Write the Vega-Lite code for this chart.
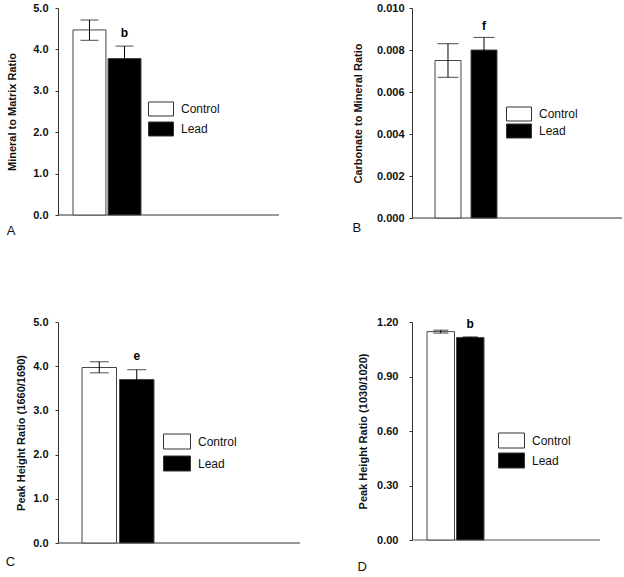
{
  "$schema": "https://vega.github.io/schema/vega-lite/v6.json",
  "padding": {"left": 5, "top": 1, "right": 0, "bottom": 0},
  "background": "white",
  "columns": 2,
  "bounds": "full",
  "align": "each",
  "spacing": {"column": 51, "row": 73},
  "resolve": {"scale": {"fill": "independent", "y": "independent", "x": "independent"}, "legend": {"fill": "independent"}},
  "concat": [
    {
      "width": 221, "height": 207,
      "title": {"text": "A", "orient": "bottom", "anchor": "start", "frame": "bounds", "offset": 5},
      "data": {"values": [
        {"group": "Control", "mean": 4.47, "lo": 4.22, "hi": 4.71, "sig": ""},
        {"group": "Lead", "mean": 3.78, "lo": 3.48, "hi": 4.08, "sig": "b"}
      ]},
      "encoding": {
        "y": {"field": "mean", "type": "quantitative", "scale": {"domain": [0, 5]}, "axis": {"values": [0, 1, 2, 3, 4, 5], "format": ".1f", "title": "Mineral to Matrix Ratio", "labelPadding": 7, "titlePadding": 15}}
      },
      "layer": [
        {"data": {"values": [{"base": 0}]}, "mark": {"type": "rule", "color": "#333", "strokeWidth": 1}, "encoding": {"y": {"field": "base", "type": "quantitative"}}},
        {"mark": {"type": "bar", "stroke": "#444", "strokeWidth": 1},
         "encoding": {
           "x": {"field": "group", "type": "nominal", "scale": {"domain": ["Control", "Lead"], "range": [15, 83], "paddingInner": 0.06, "paddingOuter": 0}, "axis": null},
           "fill": {"field": "group", "type": "nominal", "scale": {"domain": ["Control", "Lead"], "range": ["white", "black"]},
             "legend": {"orient": "none", "legendX": 95.5, "legendY": 93.5, "title": null, "symbolType": "M-1.786,-1H1.786V1H-1.786Z", "symbolSize": 196, "labelOffset": 12.5, "rowPadding": 1}}
         }},
        {"mark": {"type": "rule", "color": "black"}, "encoding": {"x": {"field": "group", "type": "nominal"}, "y": {"field": "lo", "type": "quantitative"}, "y2": {"field": "hi"}}},
        {"mark": {"type": "tick", "color": "black", "size": 18, "thickness": 1}, "encoding": {"x": {"field": "group", "type": "nominal"}, "y": {"field": "hi", "type": "quantitative"}}},
        {"mark": {"type": "tick", "color": "black", "size": 18, "thickness": 1}, "encoding": {"x": {"field": "group", "type": "nominal"}, "y": {"field": "lo", "type": "quantitative"}}},
        {"mark": {"type": "text", "baseline": "alphabetic", "dy": -9, "fontWeight": "bold", "fontSize": 12, "font": "Liberation Sans"}, "encoding": {"x": {"field": "group", "type": "nominal"}, "y": {"field": "hi", "type": "quantitative"}, "text": {"field": "sig"}}}
      ]
    },
    {
      "width": 210, "height": 210,
      "title": {"text": "B", "orient": "bottom", "anchor": "start", "frame": "bounds", "offset": -1},
      "data": {"values": [
        {"group": "Control", "mean": 0.0075, "lo": 0.0067, "hi": 0.0083, "sig": ""},
        {"group": "Lead", "mean": 0.0080, "lo": 0.0074, "hi": 0.0086, "sig": "f"}
      ]},
      "encoding": {
        "y": {"field": "mean", "type": "quantitative", "scale": {"domain": [0, 0.01]}, "axis": {"values": [0, 0.002, 0.004, 0.006, 0.008, 0.01], "format": ".3f", "title": "Carbonate to Mineral Ratio", "labelPadding": 5, "titlePadding": 13}}
      },
      "layer": [
        {"data": {"values": [{"base": 0}]}, "mark": {"type": "rule", "color": "#333", "strokeWidth": 1}, "encoding": {"y": {"field": "base", "type": "quantitative"}}},
        {"mark": {"type": "bar", "stroke": "#444", "strokeWidth": 1},
         "encoding": {
           "x": {"field": "group", "type": "nominal", "scale": {"domain": ["Control", "Lead"], "range": [23, 85], "paddingInner": 0.278, "paddingOuter": 0}, "axis": null},
           "fill": {"field": "group", "type": "nominal", "scale": {"domain": ["Control", "Lead"], "range": ["white", "black"]},
             "legend": {"orient": "none", "legendX": 99.5, "legendY": 98.5, "title": null, "symbolType": "M-1.786,-1H1.786V1H-1.786Z", "symbolSize": 196, "labelOffset": 12.5, "rowPadding": -2}}
         }},
        {"mark": {"type": "rule", "color": "black"}, "encoding": {"x": {"field": "group", "type": "nominal"}, "y": {"field": "lo", "type": "quantitative"}, "y2": {"field": "hi"}}},
        {"mark": {"type": "tick", "color": "black", "size": 21, "thickness": 1}, "encoding": {"x": {"field": "group", "type": "nominal"}, "y": {"field": "hi", "type": "quantitative"}}},
        {"mark": {"type": "tick", "color": "black", "size": 21, "thickness": 1}, "encoding": {"x": {"field": "group", "type": "nominal"}, "y": {"field": "lo", "type": "quantitative"}}},
        {"mark": {"type": "text", "baseline": "alphabetic", "dy": -7, "fontWeight": "bold", "fontSize": 12, "font": "Liberation Sans"}, "encoding": {"x": {"field": "group", "type": "nominal"}, "y": {"field": "hi", "type": "quantitative"}, "text": {"field": "sig"}}}
      ]
    },
    {
      "width": 242, "height": 221,
      "title": {"text": "C", "orient": "bottom", "anchor": "start", "frame": "bounds", "offset": 8, "dx": -10},
      "data": {"values": [
        {"group": "Control", "mean": 3.97, "lo": 3.85, "hi": 4.10, "sig": ""},
        {"group": "Lead", "mean": 3.70, "lo": 3.48, "hi": 3.92, "sig": "e"}
      ]},
      "encoding": {
        "y": {"field": "mean", "type": "quantitative", "scale": {"domain": [0, 5]}, "axis": {"values": [0, 1, 2, 3, 4, 5], "format": ".1f", "title": "Peak Height Ratio (1660/1690)", "labelPadding": 7, "titlePadding": 6}}
      },
      "layer": [
        {"data": {"values": [{"base": 0}]}, "mark": {"type": "rule", "color": "#333", "strokeWidth": 1}, "encoding": {"y": {"field": "base", "type": "quantitative"}}},
        {"mark": {"type": "bar", "stroke": "#444", "strokeWidth": 1},
         "encoding": {
           "x": {"field": "group", "type": "nominal", "scale": {"domain": ["Control", "Lead"], "range": [24, 96], "paddingInner": 0.08, "paddingOuter": 0}, "axis": null},
           "fill": {"field": "group", "type": "nominal", "scale": {"domain": ["Control", "Lead"], "range": ["white", "black"]},
             "legend": {"orient": "none", "legendX": 111, "legendY": 111.5, "title": null, "symbolType": "M-1.8,-1H1.8V1H-1.8Z", "symbolSize": 225, "labelOffset": 13, "rowPadding": 2}}
         }},
        {"mark": {"type": "rule", "color": "black"}, "encoding": {"x": {"field": "group", "type": "nominal"}, "y": {"field": "lo", "type": "quantitative"}, "y2": {"field": "hi"}}},
        {"mark": {"type": "tick", "color": "black", "size": 19, "thickness": 1}, "encoding": {"x": {"field": "group", "type": "nominal"}, "y": {"field": "hi", "type": "quantitative"}}},
        {"mark": {"type": "tick", "color": "black", "size": 19, "thickness": 1}, "encoding": {"x": {"field": "group", "type": "nominal"}, "y": {"field": "lo", "type": "quantitative"}}},
        {"mark": {"type": "text", "baseline": "alphabetic", "dy": -10, "fontWeight": "bold", "fontSize": 12, "font": "Liberation Sans"}, "encoding": {"x": {"field": "group", "type": "nominal"}, "y": {"field": "hi", "type": "quantitative"}, "text": {"field": "sig"}}}
      ]
    },
    {
      "width": 188, "height": 218,
      "title": {"text": "D", "orient": "bottom", "anchor": "start", "frame": "bounds", "offset": 16},
      "data": {"values": [
        {"group": "Control", "mean": 1.147, "lo": 1.139, "hi": 1.155, "sig": ""},
        {"group": "Lead", "mean": 1.115, "lo": 1.112, "hi": 1.118, "sig": "b"}
      ]},
      "encoding": {
        "y": {"field": "mean", "type": "quantitative", "scale": {"domain": [0, 1.2]}, "axis": {"values": [0, 0.3, 0.6, 0.9, 1.2], "format": ".2f", "title": "Peak Height Ratio (1030/1020)", "labelPadding": 11, "titlePadding": 8}}
      },
      "layer": [
        {"data": {"values": [{"base": 0}]}, "mark": {"type": "rule", "color": "#555", "strokeWidth": 1}, "encoding": {"y": {"field": "base", "type": "quantitative"}}},
        {"mark": {"type": "bar", "stroke": "#444", "strokeWidth": 1},
         "encoding": {
           "x": {"field": "group", "type": "nominal", "scale": {"domain": ["Control", "Lead"], "range": [15, 72], "paddingInner": 0.068, "paddingOuter": 0}, "axis": null},
           "fill": {"field": "group", "type": "nominal", "scale": {"domain": ["Control", "Lead"], "range": ["white", "black"]},
             "legend": {"orient": "none", "legendX": 91.5, "legendY": 110.5, "title": null, "symbolType": "M-1.733,-1H1.733V1H-1.733Z", "symbolSize": 225, "labelOffset": 12.5, "rowPadding": 0}}
         }},
        {"mark": {"type": "rule", "color": "black"}, "encoding": {"x": {"field": "group", "type": "nominal"}, "y": {"field": "lo", "type": "quantitative"}, "y2": {"field": "hi"}}},
        {"mark": {"type": "tick", "color": "black", "size": 15, "thickness": 1}, "encoding": {"x": {"field": "group", "type": "nominal"}, "y": {"field": "hi", "type": "quantitative"}}},
        {"mark": {"type": "tick", "color": "black", "size": 15, "thickness": 1}, "encoding": {"x": {"field": "group", "type": "nominal"}, "y": {"field": "lo", "type": "quantitative"}}},
        {"mark": {"type": "text", "baseline": "alphabetic", "dy": -9, "fontWeight": "bold", "fontSize": 12, "font": "Liberation Sans"}, "encoding": {"x": {"field": "group", "type": "nominal"}, "y": {"field": "hi", "type": "quantitative"}, "text": {"field": "sig"}}}
      ]
    }
  ],
  "config": {
    "view": {"stroke": null},
    "font": "Liberation Sans",
    "axis": {"grid": false, "labelFont": "Liberation Sans", "labelFontWeight": "bold", "labelFontSize": 11, "labelColor": "#111", "titleFont": "Liberation Sans", "titleFontWeight": "bold", "titleFontSize": 11, "titleColor": "#111", "domainColor": "#333", "tickColor": "#333", "tickSize": 3},
    "legend": {"labelFont": "Liberation Sans", "labelFontSize": 12, "labelColor": "#111", "symbolStrokeColor": "#333", "symbolStrokeWidth": 1, "symbolOpacity": 1, "padding": 0},
    "title": {"font": "Liberation Sans", "fontSize": 13, "fontWeight": "normal", "color": "#111"}
  }
}
